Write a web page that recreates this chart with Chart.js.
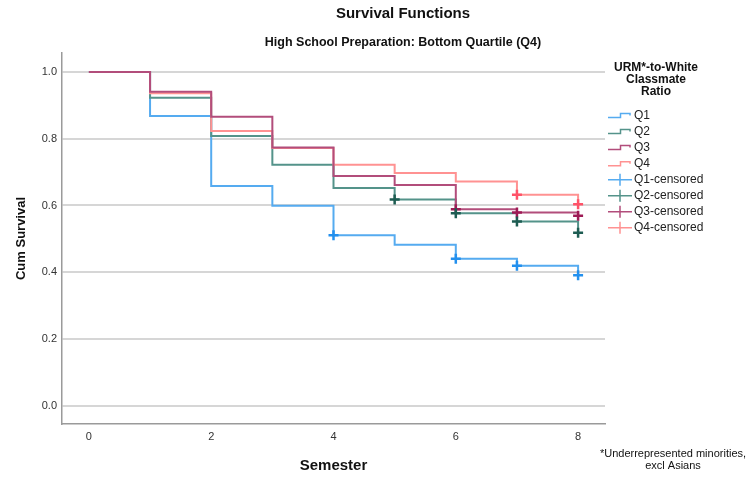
<!DOCTYPE html>
<html>
<head>
<meta charset="utf-8">
<title>Survival Functions</title>
<script src="https://cdn.jsdelivr.net/npm/chart.js@4"></script>
<style>
    html, body { margin: 0; padding: 0; background: #ffffff; }
    #chart { display: block; }
</style>
</head>
<body>
<canvas id="chart" width="749" height="477"></canvas>
<script>
"use strict";

// Kaplan-Meier estimates, read off the SPSS output
const semesters = [0, 1, 2, 3, 4, 5, 6, 7, 8];
const survivalQ1 = [1.0, 0.868, 0.658, 0.599, 0.511, 0.482, 0.440, 0.419, 0.391];
const survivalQ2 = [1.0, 0.923, 0.808, 0.722, 0.652, 0.618, 0.577, 0.552, 0.518];
const survivalQ3 = [1.0, 0.941, 0.866, 0.774, 0.688, 0.661, 0.589, 0.579, 0.569];
const survivalQ4 = [1.0, 0.936, 0.823, 0.772, 0.722, 0.697, 0.672, 0.632, 0.604];

// semesters where a censored mark is drawn
const censoredQ1 = [4, 6, 7, 8];
const censoredQ2 = [5, 6, 7, 8];
const censoredQ3 = [6, 7, 8];
const censoredQ4 = [7, 8];

const groupLabels = ['Q1', 'Q2', 'Q3', 'Q4'];
const xTicks = [0, 2, 4, 6, 8];
const yTicks = [0, 0.2, 0.4, 0.6, 0.8, 1.0];

const lineColors = ['#55abf0', '#54938a', '#b24d7b', '#ff9292'];
const markColors = ['#2390ee', '#1d5c52', '#9e1a55', '#ff5268'];
// lower order is painted last (on top): Q3 over Q4 over Q2 over Q1
const lineOrder = [5, 4, 2, 3];

const FONT = "'Liberation Sans', Arial, sans-serif";

function toPoints(times, values) {
    return times.map((t, i) => ({ x: t, y: values[i] }));
}

function censoredPoints(times, survival) {
    return times.map(t => ({ x: t, y: survival[semesters.indexOf(t)] }));
}

const survival = [survivalQ1, survivalQ2, survivalQ3, survivalQ4];
const censored = [censoredQ1, censoredQ2, censoredQ3, censoredQ4];

const datasets = [];
survival.forEach((values, i) => {
    datasets.push({
        type: 'line',
        label: groupLabels[i],
        data: toPoints(semesters, values),
        stepped: true,
        borderColor: lineColors[i],
        borderWidth: 2,
        pointRadius: 0,
        fill: false,
        order: lineOrder[i],
    });
});
censored.forEach((times, i) => {
    datasets.push({
        type: 'scatter',
        label: groupLabels[i] + '-censored',
        data: censoredPoints(times, survival[i]),
        pointStyle: 'cross',
        pointRadius: 5,
        pointBorderWidth: 2.5,
        borderColor: markColors[i],
        backgroundColor: markColors[i],
        order: 0,
    });
});

// titles, legend and footnote the way SPSS lays them out
const decorations = {
    id: 'decorations',
    afterDraw(chart) {
        const ctx = chart.ctx;
        ctx.save();
        ctx.fillStyle = '#111111';
        ctx.textAlign = 'center';
        ctx.textBaseline = 'middle';

        ctx.font = `bold 15px ${FONT}`;
        ctx.fillText('Survival Functions', 403, 14);
        ctx.font = `bold 12.5px ${FONT}`;
        ctx.fillText('High School Preparation: Bottom Quartile (Q4)', 403, 43);

        ctx.font = `bold 12px ${FONT}`;
        ['URM*-to-White', 'Classmate', 'Ratio'].forEach((line, i) => {
            ctx.fillText(line, 656, 68 + i * 12);
        });

        ctx.font = `11px ${FONT}`;
        ctx.fillText('*Underrepresented minorities,', 673, 454);
        ctx.fillText('excl Asians', 673, 465.5);

        ctx.textAlign = 'left';
        ctx.font = `12px ${FONT}`;
        ctx.lineWidth = 1.5;
        const labels = groupLabels.concat(groupLabels.map(l => l + '-censored'));
        labels.forEach((label, i) => {
            const y = 115.5 + i * 16.05;
            const color = lineColors[i % 4];
            ctx.strokeStyle = color;
            ctx.beginPath();
            if (i < 4) {
                ctx.moveTo(608, y + 2);
                ctx.lineTo(620.5, y + 2);
                ctx.lineTo(620.5, y - 2);
                ctx.lineTo(630, y - 2);
                ctx.lineTo(630, y);
            } else {
                ctx.moveTo(608, y);
                ctx.lineTo(632, y);
                ctx.moveTo(620, y - 6);
                ctx.lineTo(620, y + 6);
            }
            ctx.stroke();
            ctx.fillStyle = '#222222';
            ctx.fillText(label, 634, y);
        });
        ctx.restore();
    }
};

new Chart(document.getElementById('chart').getContext('2d'), {
    data: { datasets: datasets },
    options: {
        responsive: false,
        animation: false,
        devicePixelRatio: 1,
        layout: { padding: { top: 53, right: 144, left: 0, bottom: 0 } },
        plugins: {
            legend: { display: false },
            title: { display: false },
            tooltip: { enabled: false },
        },
        scales: {
            x: {
                type: 'linear',
                min: -0.44,
                max: 8.44,
                afterBuildTicks: scale => { scale.ticks = xTicks.map(v => ({ value: v })); },
                afterFit: scale => { scale.height = 53; },
                grid: { display: false, drawTicks: false },
                border: { display: true, color: '#9a9a9a', width: 1.5 },
                ticks: {
                    padding: 6,
                    color: '#333333',
                    font: { family: FONT, size: 11 },
                    maxRotation: 0,
                },
                title: {
                    display: true,
                    text: 'Semester',
                    color: '#111111',
                    font: { family: FONT, size: 15, weight: 'bold' },
                    padding: { top: 0, bottom: 2 },
                },
            },
            y: {
                type: 'linear',
                min: -0.055,
                max: 1.057,
                afterBuildTicks: scale => { scale.ticks = yTicks.map(v => ({ value: v })); },
                afterFit: scale => { scale.width = 62; },
                grid: { color: '#d6d6d6', lineWidth: 2, drawTicks: false },
                border: { display: true, color: '#9a9a9a', width: 1.5 },
                ticks: {
                    padding: 5,
                    color: '#333333',
                    font: { family: FONT, size: 11 },
                    callback: v => v.toFixed(1),
                },
                title: {
                    display: true,
                    text: 'Cum Survival',
                    color: '#111111',
                    font: { family: FONT, size: 13, weight: 'bold' },
                    padding: { top: 14, bottom: 0 },
                },
            },
        },
    },
    plugins: [decorations],
});
</script>
</body>
</html>
